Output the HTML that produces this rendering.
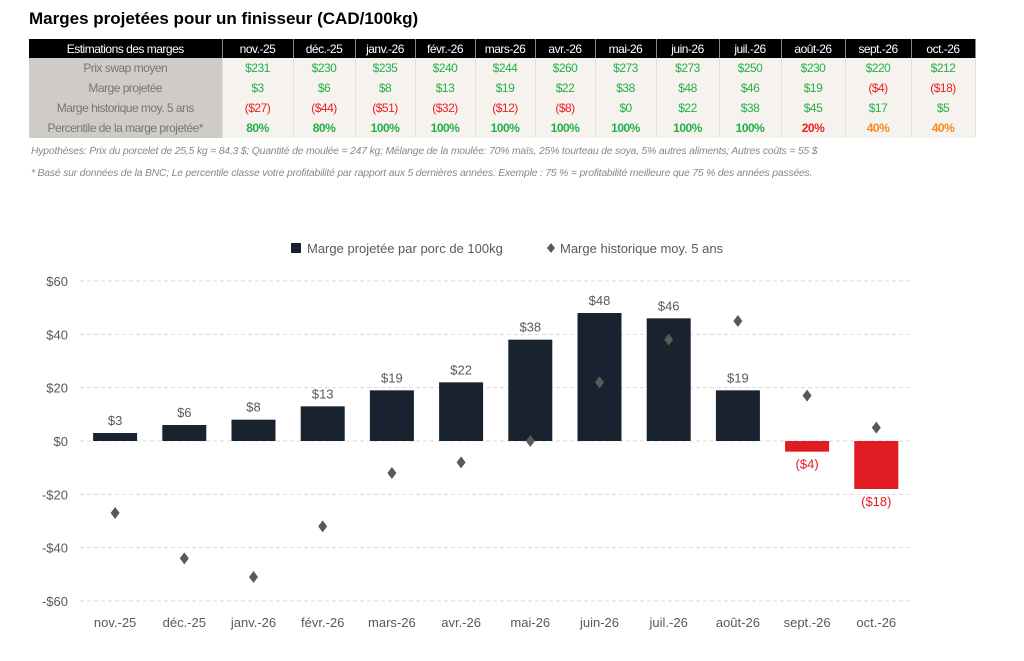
<!DOCTYPE html>
<html><head><meta charset="utf-8">
<style>
body{margin:0;width:1024px;height:661px;background:#fff;font-family:"Liberation Sans",sans-serif;overflow:hidden;position:relative}
h1{position:absolute;left:29px;top:9px;margin:0;font-size:17px;font-weight:bold;color:#000}
table{position:absolute;left:29px;top:39px;border-collapse:collapse;font-size:12px;letter-spacing:-0.5px;table-layout:fixed;width:946px}
th{background:#000;color:#fff;font-weight:normal;height:19px;padding:0;border-right:1px solid #888;text-align:center;overflow:hidden;white-space:nowrap}
td{height:20px;padding:0;text-align:center;background:#f6f3ef;border-right:1px solid #e6e2dd;white-space:nowrap;overflow:hidden}
td.l{background:#cfcbc7;color:#777}
.g{color:#22b04b}.r{color:#ee1c24}.o{color:#f7891f}.b{font-weight:bold}
.note{position:absolute;left:31px;font-size:10.4px;font-style:italic;color:#888;letter-spacing:-0.2px;white-space:nowrap}
</style></head><body>
<h1>Marges projetées pour un finisseur (CAD/100kg)</h1>
<table>
<colgroup><col style="width:193px"><col style="width:71px"><col style="width:62px"><col style="width:60px"><col style="width:60px"><col style="width:60px"><col style="width:60px"><col style="width:61px"><col style="width:63px"><col style="width:62px"><col style="width:64px"><col style="width:66px"><col style="width:64px"></colgroup>
<tr><th>Estimations des marges</th><th>nov.-25</th><th>déc.-25</th><th>janv.-26</th><th>févr.-26</th><th>mars-26</th><th>avr.-26</th><th>mai-26</th><th>juin-26</th><th>juil.-26</th><th>août-26</th><th>sept.-26</th><th>oct.-26</th></tr>
<tr><td class="l">Prix swap moyen</td><td class="g">$231</td><td class="g">$230</td><td class="g">$235</td><td class="g">$240</td><td class="g">$244</td><td class="g">$260</td><td class="g">$273</td><td class="g">$273</td><td class="g">$250</td><td class="g">$230</td><td class="g">$220</td><td class="g">$212</td></tr>
<tr><td class="l">Marge projetée</td><td class="g">$3</td><td class="g">$6</td><td class="g">$8</td><td class="g">$13</td><td class="g">$19</td><td class="g">$22</td><td class="g">$38</td><td class="g">$48</td><td class="g">$46</td><td class="g">$19</td><td class="r">($4)</td><td class="r">($18)</td></tr>
<tr><td class="l">Marge historique moy. 5 ans</td><td class="r">($27)</td><td class="r">($44)</td><td class="r">($51)</td><td class="r">($32)</td><td class="r">($12)</td><td class="r">($8)</td><td class="g">$0</td><td class="g">$22</td><td class="g">$38</td><td class="g">$45</td><td class="g">$17</td><td class="g">$5</td></tr>
<tr><td class="l">Percentile de la marge projetée*</td><td class="g b">80%</td><td class="g b">80%</td><td class="g b">100%</td><td class="g b">100%</td><td class="g b">100%</td><td class="g b">100%</td><td class="g b">100%</td><td class="g b">100%</td><td class="g b">100%</td><td class="r b">20%</td><td class="o b">40%</td><td class="o b">40%</td></tr>
</table>
<div class="note" style="top:146px">Hypothèses: Prix du porcelet de 25,5 kg = 84,3 $; Quantité de moulée = 247 kg; Mélange de la moulée: 70% maïs, 25% tourteau de soya, 5% autres aliments; Autres coûts = 55 $</div>
<div class="note" style="top:168px">* Basé sur données de la BNC; Le percentile classe votre profitabilité par rapport aux 5 dernières années. Exemple : 75 % = profitabilité meilleure que 75 % des années passées.</div>
<svg id="c" width="1024" height="661" style="position:absolute;left:0;top:0"></svg>
<script>
const categories=["nov.-25","déc.-25","janv.-26","févr.-26","mars-26","avr.-26","mai-26","juin-26","juil.-26","août-26","sept.-26","oct.-26"];
const projected=[3,6,8,13,19,22,38,48,46,19,-4,-18];
const historic=[-27,-44,-51,-32,-12,-8,0,22,38,45,17,5];
const yTicks=[60,40,20,0,-20,-40,-60];
const yTickLabels=["$60","$40","$20","$0","-$20","-$40","-$60"];
const NS="http://www.w3.org/2000/svg";
const svg=document.getElementById('c');
const x0=80.5,step=69.2;
const X=i=>x0+step*(i+0.5);
const Y=v=>441-v*(160/60);
function mk(t,a,txt){const e=document.createElementNS(NS,t);for(const k in a)e.setAttribute(k,a[k]);if(txt!=null)e.textContent=txt;svg.appendChild(e);return e;}
const fmt=v=>v<0?"($"+(-v)+")":"$"+v;
yTicks.forEach((t,i)=>{
 const g=mk('line',{x1:80,x2:910,y1:Y(t),y2:Y(t),stroke:'#d9d9d9','stroke-dasharray':'4,3'});
 
 
 const l=mk('text',{x:68,y:Y(t)+5,'text-anchor':'end','font-size':13,fill:'#595959'},yTickLabels[i]);
 
 
});
categories.forEach((c,i)=>{
 const v=projected[i];
 const b=mk('rect',{x:X(i)-22,y:Math.min(Y(v),Y(0)),width:44,height:Math.abs(Y(v)-Y(0)),fill:v<0?'#e01b24':'#18232f'});
 
 
 const vl=mk('text',{x:X(i),y:v<0?Y(v)+17:Y(v)-8,'text-anchor':'middle','font-size':13,fill:v<0?'#e01b24':'#595959'},fmt(v));
 
 
 const h=historic[i],hy=Y(h);
 const d=mk('path',{d:`M${X(i)} ${hy-6}L${X(i)+4.5} ${hy}L${X(i)} ${hy+6}L${X(i)-4.5} ${hy}Z`,fill:'#595959'});
 
 
 const xl=mk('text',{x:X(i),y:627,'text-anchor':'middle','font-size':13,fill:'#595959'},c);
 
 
});
const ls=mk('rect',{x:291,y:243,width:10,height:10,fill:'#18232f'});


const lt=mk('text',{x:307,y:253,'font-size':13,fill:'#595959'},'Marge projetée par porc de 100kg');


const ld=mk('path',{d:'M551 243L555 248L551 253L547 248Z',fill:'#595959'});


const lt2=mk('text',{x:560,y:253,'font-size':13,fill:'#595959'},'Marge historique moy. 5 ans');


</script>
</body></html>
